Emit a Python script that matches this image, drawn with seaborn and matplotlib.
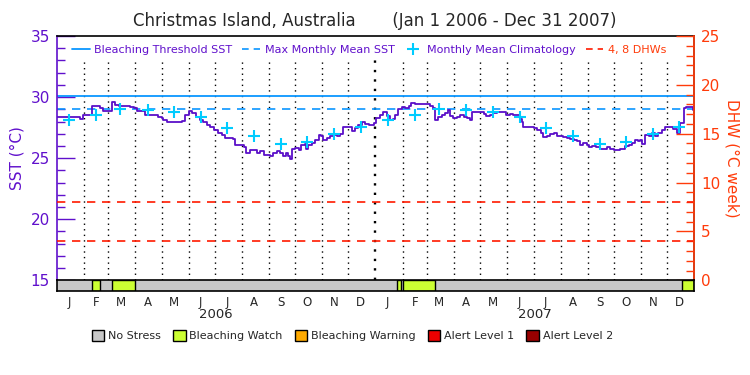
import pandas as pd
import seaborn as sns
import matplotlib.pyplot as plt
from matplotlib.lines import Line2D
from matplotlib.patches import Patch
import matplotlib.transforms as mtransforms

# ---- dados ----
# SST (dias desde 1 jan 2006)
sst_days = [0, 25, 27, 30, 38, 40, 48, 50, 53, 61, 63, 67, 71, 82, 84, 88, 92, 95,
            101, 113, 116, 120, 122, 126, 139, 143, 147, 151, 155, 160, 164, 168,
            172, 176, 180, 185, 189, 193, 198, 202, 204, 210, 214, 217, 221, 225,
            229, 233, 237, 240, 244, 248, 252, 256, 259, 263, 265, 267, 269, 273,
            277, 280, 284, 286, 288, 292, 296, 300, 303, 305, 309, 313, 317, 321,
            324, 328, 334, 338, 342, 345, 349, 353, 357,
            363, 366, 370, 374, 378, 382, 385, 387, 391, 395, 399, 403, 406, 410,
            414, 424, 427, 431, 433, 437, 441, 445, 448, 450, 454, 458, 462, 466,
            470, 473, 475, 485, 489, 492, 496, 500, 504, 512, 515, 519, 523, 527,
            531, 533, 534, 542, 546, 550, 554, 557, 561, 565, 569, 573, 576, 580,
            584, 588, 592, 596, 599, 603, 607, 609, 613, 618, 622, 626, 630, 634,
            638, 641, 645, 649, 651, 655, 659, 662, 666, 668, 670, 674, 678, 682,
            685, 689, 693, 697, 702, 706, 710, 714, 718, 720, 725, 729]
sst_vals = [28.33, 28.33, 28.22, 28.52, 28.52, 29.29, 29.29, 29.10, 28.88, 28.88,
            29.56, 29.37, 29.29, 29.29, 29.15, 29.10, 28.88, 28.82, 28.55, 28.55,
            28.33, 28.28, 28.14, 28.00, 28.00, 28.06, 28.55, 28.82, 28.69, 28.41,
            28.14, 28.00, 27.73, 27.51, 27.27, 27.05, 26.86, 26.69, 26.69, 26.56,
            26.09, 26.09, 25.90, 25.46, 25.68, 25.63, 25.46, 25.55, 25.27, 25.27,
            25.14, 25.46, 25.55, 25.41, 25.19, 25.46, 25.14, 24.94, 25.74, 25.82,
            25.68, 26.09, 26.17, 25.74, 26.09, 26.23, 26.50, 26.86, 26.78, 26.50,
            26.64, 26.78, 26.91, 26.78, 26.97, 27.59, 27.59, 27.19, 27.46, 27.73,
            28.00, 27.79, 27.68,
            27.87, 28.28, 28.55, 28.74, 28.47, 28.14, 28.20, 28.55, 29.02, 29.18,
            29.10, 29.29, 29.51, 29.45, 29.45, 29.45, 29.23, 29.10, 28.09, 28.36,
            28.55, 28.69, 28.91, 28.47, 28.28, 28.41, 28.55, 28.41, 28.28, 28.09,
            28.74, 28.74, 28.63, 28.47, 28.55, 28.69, 28.74, 28.74, 28.55, 28.63,
            28.55, 28.55, 28.20, 27.92, 27.54, 27.54, 27.46, 27.32, 27.10, 26.72,
            26.83, 26.99, 27.05, 26.83, 26.78, 26.72, 26.64, 26.58, 26.50, 26.37,
            26.09, 26.23, 26.09, 25.90, 25.96, 25.90, 25.74, 25.74, 25.90, 25.74,
            25.63, 25.63, 25.74, 25.74, 26.01, 26.09, 26.28, 26.45, 26.37, 26.50,
            26.17, 26.91, 26.83, 27.05, 26.78, 27.05, 27.32, 27.54, 27.54, 27.38,
            27.10, 27.87, 29.10, 29.18, 29.18, 28.96]

# climatologia mensal (mesma para os dois anos)
clim_vals = [28.10, 28.55, 29.00, 28.95, 28.75, 28.35, 27.45, 26.80, 26.15, 26.30, 26.95, 27.55]
years = [2006, 2007]
month_letters = ['J', 'F', 'M', 'A', 'M', 'J', 'J', 'A', 'S', 'O', 'N', 'D']

threshold_sst = 30.1
mmm_sst = 29.0
dhw_levels = [4, 8]

# periodos de "Bleaching Watch" na faixa inferior
watch_start = ['2006-02-10', '2006-03-05', '2007-01-26', '2007-02-01', '2007-12-18']
watch_end = ['2006-02-20', '2006-04-01', '2007-01-30', '2007-03-10', '2008-01-01']

stress_labels = ['No Stress', 'Bleaching Watch', 'Bleaching Warning', 'Alert Level 1', 'Alert Level 2']
stress_colors = ['#c8c8c8', '#ccff33', '#ffaa00', '#ee0000', '#990000']

# cores
purple = '#5a0fc8'
axis_purple = '#6010cc'
thr_blue = '#0a96ff'
clim_cyan = '#00ccff'
dhw_red = '#ff1a00'
axis_orange = '#ff3b0a'

start = pd.Timestamp('2006-01-01')
end = pd.Timestamp('2008-01-01')

sst = pd.DataFrame({'data': start + pd.to_timedelta(sst_days, unit='D'), 'sst': sst_vals})
clim = pd.DataFrame({
    'data': [pd.Timestamp(y, m, 15) for y in years for m in range(1, 13)],
    'sst': clim_vals * len(years),
})

sns.set_style('white')
plt.rcParams['font.family'] = ['DejaVu Sans']

fig = plt.figure(figsize=(7.5, 3.75), dpi=100)
ax = fig.add_axes([0.0756, 0.2525, 0.8501, 0.6515])
ax.set_xlim(start, end)
ax.set_ylim(15, 35)

# linhas de grade mensais (pontilhadas)
for d in pd.date_range('2006-02-01', '2007-12-01', freq='MS'):
    lw = 1.7 if d.month == 1 else 1.0
    ax.vlines(d, 15, 33.1, colors='black', linestyles=(0, (1, 3)), lw=lw, zorder=1)

ax.axhline(threshold_sst, color=thr_blue, lw=1.3, zorder=2)
ax.axhline(mmm_sst, color=thr_blue, lw=1.2, ls=(0, (5, 4)), zorder=2)

sns.lineplot(data=sst, x='data', y='sst', ax=ax, color=purple, lw=1.3,
             drawstyle='steps-post', zorder=3)
sns.scatterplot(data=clim, x='data', y='sst', ax=ax, marker='+', s=80,
                color=clim_cyan, linewidth=1.5, zorder=4)

ax.set_xlabel('')
ax.set_ylabel('SST (°C)', color=axis_purple, fontsize=11, labelpad=4)
ax.set_xticks([])
ax.set_yticks(range(15, 36, 5))
ax.set_yticks(range(15, 36, 1), minor=True)
ax.tick_params(axis='y', which='major', direction='in', length=13, width=1,
               colors=axis_purple, labelsize=11, pad=5, left=True)
ax.tick_params(axis='y', which='minor', direction='in', length=6, width=1,
               colors=axis_purple, left=True)
for s in ax.spines.values():
    s.set_linewidth(1.2)
ax.spines['left'].set_color(axis_purple)
ax.spines['top'].set_color('black')
ax.spines['bottom'].set_visible(False)

# eixo DHW
ax2 = ax.twinx()
ax2.set_ylim(0, 25)
for lvl in dhw_levels:
    ax2.axhline(lvl, color=dhw_red, lw=1.2, ls=(0, (5, 4)))
ax2.set_yticks(range(0, 26, 5))
ax2.set_yticks(range(0, 26, 1), minor=True)
ax2.tick_params(axis='y', which='major', direction='in', length=13, width=1,
                colors=axis_orange, labelsize=11, pad=5)
ax2.tick_params(axis='y', which='minor', direction='in', length=6, width=1,
                colors=axis_orange)
ax2.set_ylabel('DHW (°C week)', color=axis_orange, fontsize=11, rotation=270, labelpad=14)
ax2.spines['right'].set_color(axis_orange)
ax2.spines['right'].set_linewidth(1.2)
ax2.spines['left'].set_visible(False)
ax2.spines['top'].set_visible(False)
ax2.spines['bottom'].set_visible(False)

# legenda superior
handles = [
    Line2D([], [], color=thr_blue, lw=1.3),
    Line2D([], [], color=thr_blue, lw=1.2, ls=(0, (4, 3))),
    Line2D([], [], color=clim_cyan, marker='+', ls='none', markersize=8, mew=1.5),
    Line2D([], [], color=dhw_red, lw=1.2, ls=(0, (4, 3))),
]
labels = ['Bleaching Threshold SST', 'Max Monthly Mean SST', 'Monthly Mean Climatology', '4, 8 DHWs']
leg = ax2.legend(handles, labels, loc='center', bbox_to_anchor=(0.49, 0.943), ncol=4,
                 frameon=False, fontsize=8, handlelength=1.6, handletextpad=0.4,
                 columnspacing=0.9)
for txt, c in zip(leg.get_texts(), [axis_purple, axis_purple, axis_purple, axis_orange]):
    txt.set_color(c)

# faixa de estresse
sax = fig.add_axes([0.0756, 0.2253, 0.8501, 0.0272])
sax.set_xlim(start, end)
sax.set_ylim(0, 1)
sax.axvspan(start, end, color=stress_colors[0], zorder=0)
for s0, s1 in zip(watch_start, watch_end):
    sax.axvspan(pd.Timestamp(s0), pd.Timestamp(s1), facecolor=stress_colors[1],
                edgecolor='black', lw=1, zorder=1)
for s in sax.spines.values():
    s.set_color('black')
    s.set_linewidth(1.2)
sax.set_yticks([])
mids = [pd.Timestamp(y, m, 15) for y in years for m in range(1, 13)]
sax.set_xticks(mids)
sax.set_xticklabels(month_letters * len(years), fontsize=8.5)
sax.tick_params(axis='x', length=0, pad=4)
trans = mtransforms.blended_transform_factory(sax.transData, fig.transFigure)
for y in years:
    sax.text(pd.Timestamp(y, 7, 2), 0.16, str(y), transform=trans, ha='center',
             va='center', fontsize=9.5)

# legenda inferior
patches = [Patch(facecolor=c, edgecolor='black', lw=1) for c in stress_colors]
fig.legend(patches, stress_labels, loc='center', bbox_to_anchor=(0.47, 0.105), ncol=5,
           frameon=False, fontsize=8, handlelength=1.1, handleheight=1.1,
           handletextpad=0.35, columnspacing=1.1)

fig.text(0.5, 0.945, 'Christmas Island, Australia       (Jan 1 2006 - Dec 31 2007)',
         ha='center', va='center', fontsize=12)

fig.savefig('out.png', dpi=100)
